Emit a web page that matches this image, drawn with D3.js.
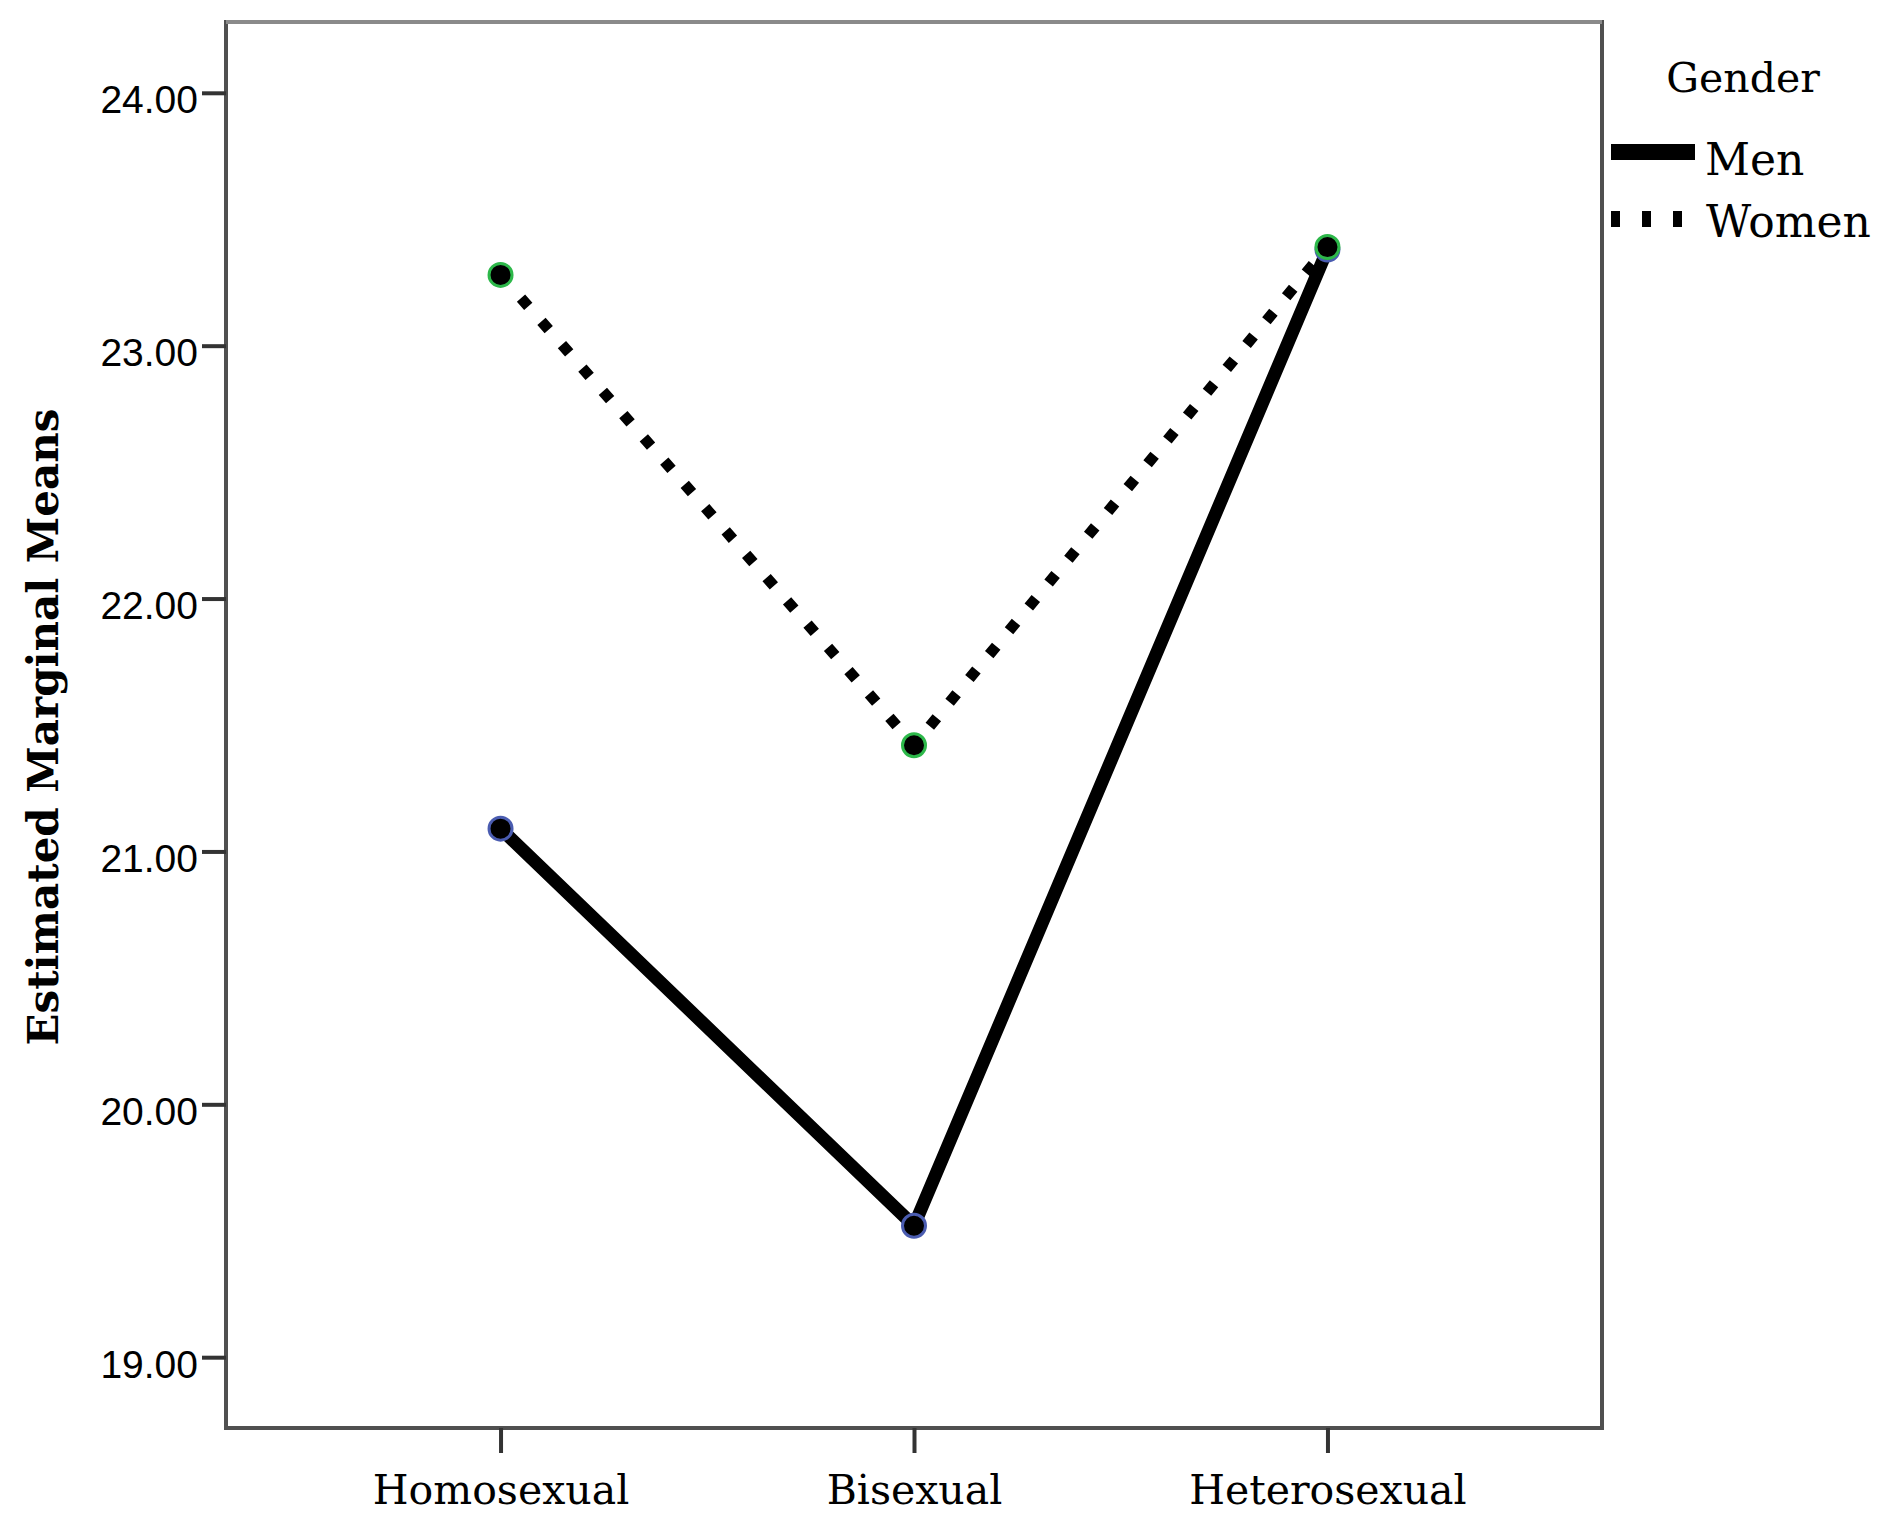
<!DOCTYPE html>
<html>
<head>
<meta charset="utf-8">
<script src="https://cdn.jsdelivr.net/npm/d3@7"></script>
<style>
  html, body { margin: 0; padding: 0; background: #ffffff; }
  svg { display: block; }
</style>
</head>
<body>
<svg id="chart" width="1891" height="1538"></svg>
<script>
// ---- data ----
const categories = ["Homosexual", "Bisexual", "Heterosexual"];
const menValues = [21.09, 19.52, 23.38];
const womenValues = [23.28, 21.42, 23.39];
const yTicks = [19, 20, 21, 22, 23, 24];
const seriesNames = ["Men", "Women"];
const legendTitle = "Gender";
const yTitle = "Estimated Marginal Means";

// ---- layout ----
const svg = d3.select("#chart");
const frame = { left: 226, top: 22, right: 1602, bottom: 1428 };

const x = d3.scalePoint()
  .domain(categories)
  .range([frame.left, frame.right])
  .padding(0.664);

const y = d3.scaleLinear()
  .domain([18.72, 24.28])
  .range([frame.bottom, frame.top]);

// frame
svg.append("rect")
  .attr("x", frame.left).attr("y", frame.top)
  .attr("width", frame.right - frame.left)
  .attr("height", frame.bottom - frame.top)
  .attr("fill", "none")
  .attr("stroke", "#505050")
  .attr("stroke-width", 4);
svg.append("line")
  .attr("x1", frame.left).attr("x2", frame.right)
  .attr("y1", frame.top).attr("y2", frame.top)
  .attr("stroke", "#8a8a8a").attr("stroke-width", 4);

// y axis
const yAxis = svg.append("g")
  .attr("transform", `translate(${frame.left},0)`)
  .call(d3.axisLeft(y).tickValues(yTicks).tickFormat(d3.format(".2f")).tickSize(24).tickPadding(5));
yAxis.select(".domain").remove();
yAxis.selectAll(".tick line").attr("stroke", "#333").attr("stroke-width", 4);
yAxis.selectAll(".tick text")
  .attr("x", -28).attr("y", 20).attr("dy", 0)
  .attr("fill", "#000")
  .style("font-family", "'Liberation Sans', Arial, sans-serif")
  .style("font-size", "39px");

// x axis
const xAxis = svg.append("g")
  .attr("transform", `translate(0,${frame.bottom})`)
  .call(d3.axisBottom(x).tickSize(25).tickPadding(20));
xAxis.select(".domain").remove();
xAxis.selectAll(".tick line").attr("stroke", "#333").attr("stroke-width", 4);
xAxis.selectAll(".tick text")
  .attr("y", 76).attr("dy", 0)
  .attr("fill", "#000")
  .style("font-family", "'DejaVu Serif', serif")
  .style("font-size", "41px");

// y title
svg.append("text")
  .attr("transform", `translate(58,${(frame.top + frame.bottom) / 2 + 2}) rotate(-90)`)
  .attr("text-anchor", "middle")
  .style("font-family", "'DejaVu Serif', serif")
  .style("font-weight", "bold")
  .style("font-size", "42px")
  .attr("fill", "#000")
  .text(yTitle);

// lines
const line = d3.line().x(d => x(d.c)).y(d => y(d.v));
const menData = categories.map((c, i) => ({ c, v: menValues[i] }));
const womenData = categories.map((c, i) => ({ c, v: womenValues[i] }));

svg.append("path")
  .datum(menData)
  .attr("d", line)
  .attr("fill", "none")
  .attr("stroke", "#000")
  .attr("stroke-width", 13)
  .attr("stroke-linejoin", "miter");

svg.append("path")
  .datum(womenData)
  .attr("d", line)
  .attr("fill", "none")
  .attr("stroke", "#000")
  .attr("stroke-width", 11)
  .attr("stroke-dasharray", "11 20");

// markers
svg.selectAll(".menPt").data(menData).enter().append("circle")
  .attr("cx", d => x(d.c)).attr("cy", d => y(d.v)).attr("r", 11.5)
  .attr("fill", "#000").attr("stroke", "#4a5cb0").attr("stroke-width", 3);
svg.selectAll(".womenPt").data(womenData).enter().append("circle")
  .attr("cx", d => x(d.c)).attr("cy", d => y(d.v)).attr("r", 11.5)
  .attr("fill", "#000").attr("stroke", "#2db84a").attr("stroke-width", 3);

// legend
const lg = svg.append("g");
lg.append("text")
  .attr("x", 1743).attr("y", 92).attr("text-anchor", "middle")
  .style("font-family", "'DejaVu Serif', serif").style("font-size", "41px")
  .attr("fill", "#000").text(legendTitle);
lg.append("line")
  .attr("x1", 1611).attr("x2", 1695).attr("y1", 152).attr("y2", 152)
  .attr("stroke", "#000").attr("stroke-width", 16);
lg.append("text")
  .attr("x", 1705).attr("y", 175)
  .style("font-family", "'DejaVu Serif', serif").style("font-size", "44px")
  .attr("fill", "#000").text(seriesNames[0]);
lg.append("line")
  .attr("x1", 1611).attr("x2", 1690).attr("y1", 219).attr("y2", 219)
  .attr("stroke", "#000").attr("stroke-width", 16)
  .attr("stroke-dasharray", "9 22");
lg.append("text")
  .attr("x", 1706).attr("y", 237)
  .style("font-family", "'DejaVu Serif', serif").style("font-size", "44px")
  .attr("fill", "#000").text(seriesNames[1]);
</script>
</body>
</html>
